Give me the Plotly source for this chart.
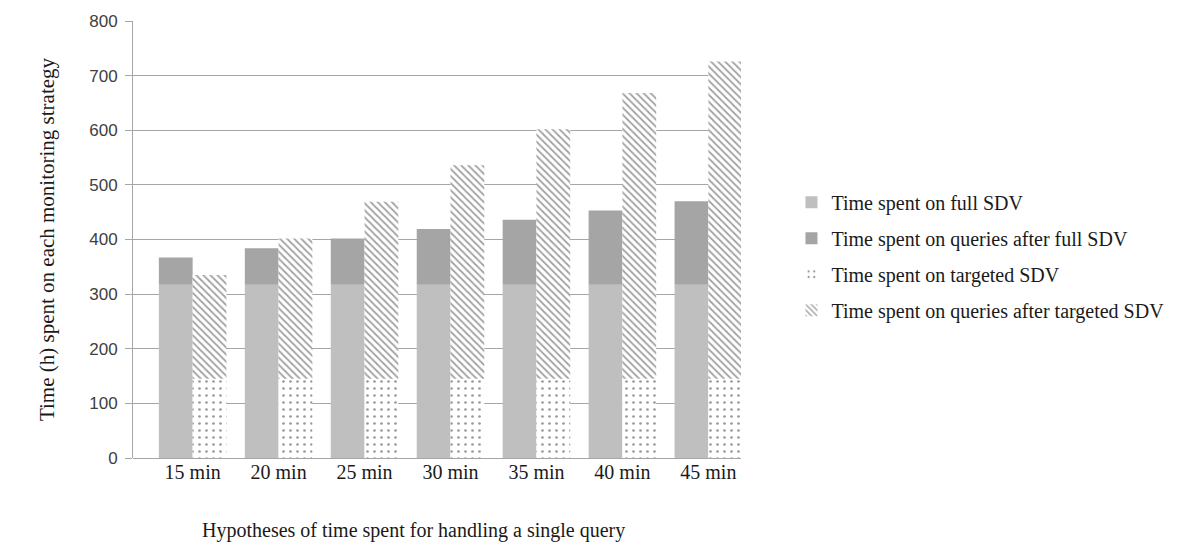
import plotly.graph_objects as go

categories = ["15 min", "20 min", "25 min", "30 min", "35 min", "40 min", "45 min"]
full_sdv = [317, 317, 317, 317, 317, 317, 317]
queries_full = [50, 67, 85, 102, 119, 136, 153]
targeted_sdv = [145, 145, 145, 145, 145, 145, 145]
queries_targeted = [190, 257, 324, 391, 457, 523, 581]

names = [
    "Time spent on full SDV",
    "Time spent on queries after full SDV",
    "Time spent on targeted SDV",
    "Time spent on queries after targeted SDV",
]
x_title = "Hypotheses of time spent for handling a single query"
y_title = "Time (h) spent on each monitoring strategy"

serif = "Liberation Serif, Times New Roman, serif"

fig = go.Figure()
fig.add_trace(go.Bar(x=categories, y=full_sdv, name=names[0], offsetgroup="full",
                     legendgroup="a",
                     marker=dict(color="#bfbfbf", line=dict(width=0))))
fig.add_trace(go.Bar(x=categories, y=queries_full, base=full_sdv, name=names[1],
                     offsetgroup="full", legendgroup="b",
                     marker=dict(color="#a5a5a5", line=dict(width=0))))
fig.add_trace(go.Bar(x=categories, y=targeted_sdv, name=names[2], offsetgroup="targ",
                     legendgroup="c",
                     marker=dict(color="white", line=dict(width=0),
                                 pattern=dict(shape=".", fgcolor="#333333", bgcolor="white",
                                              size=7, solidity=0.12))))
fig.add_trace(go.Bar(x=categories, y=queries_targeted, base=targeted_sdv, name=names[3],
                     offsetgroup="targ", legendgroup="d",
                     marker=dict(color="white", line=dict(width=0),
                                 pattern=dict(shape="\\", fgcolor="#444444", bgcolor="white",
                                              size=5, solidity=0.35))))

fig.add_annotation(text=x_title, xref="paper", yref="paper", x=0.462, y=-0.167,
                   xanchor="center", yanchor="middle", showarrow=False,
                   font=dict(family=serif, size=20, color="#1a1a1a"))

fig.update_layout(
    width=1182, height=548,
    margin=dict(l=133, r=437, t=16, b=90),
    paper_bgcolor="white", plot_bgcolor="white",
    barmode="group", bargap=0.214, bargroupgap=0,
    font=dict(family=serif, size=20, color="#1a1a1a"),
    legend=dict(x=1.083, y=0.63, xanchor="left", yanchor="top",
                font=dict(family=serif, size=20, color="#1a1a1a"),
                tracegroupgap=7, bgcolor="rgba(0,0,0,0)"),
    xaxis=dict(showgrid=False, showline=False, ticks="", range=[-0.694, 6.38],
               tickfont=dict(family=serif, size=20, color="#1a1a1a")),
    yaxis=dict(range=[0, 800], dtick=100, showgrid=True, gridcolor="#a6a6a6", gridwidth=1,
               showline=True, linecolor="#a6a6a6", linewidth=1,
               ticks="outside", ticklen=7, tickcolor="#a6a6a6", ticklabelstandoff=4,
               zeroline=True, zerolinecolor="#a6a6a6", zerolinewidth=1,
               tickfont=dict(family="Liberation Sans, Arial, sans-serif", size=17, color="#404040"),
               title=dict(text=y_title,
                          font=dict(family=serif, size=21, color="#1a1a1a"), standoff=28)),
)

fig.write_html("out.html", config={"displayModeBar": False},
               post_script="document.body.style.margin='0';document.body.style.overflow='hidden';")
